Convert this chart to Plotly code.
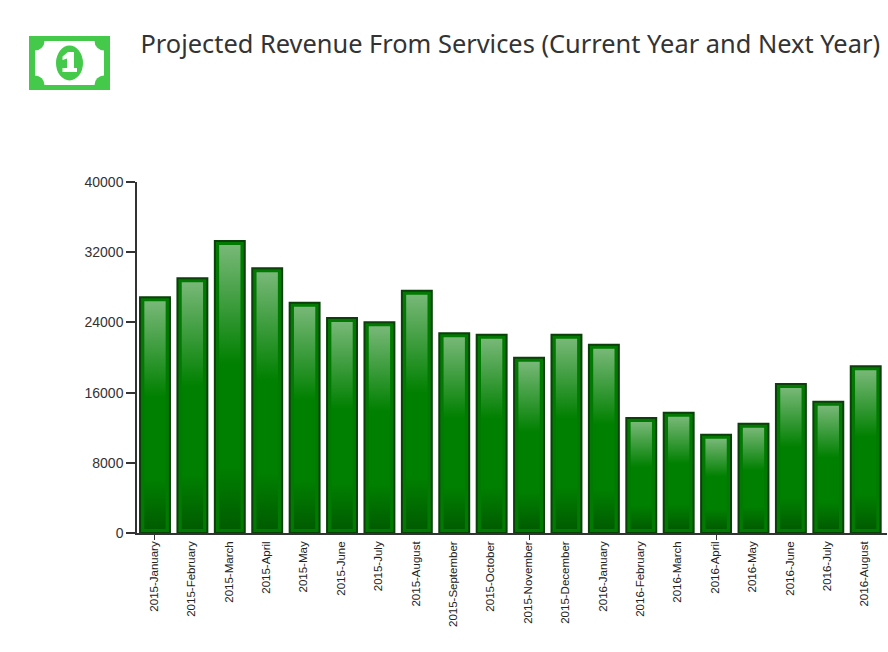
import base64
import plotly.graph_objects as go

months = ["2015-January", "2015-February", "2015-March", "2015-April", "2015-May", "2015-June",
          "2015-July", "2015-August", "2015-September", "2015-October", "2015-November",
          "2015-December", "2016-January", "2016-February", "2016-March", "2016-April",
          "2016-May", "2016-June", "2016-July", "2016-August"]
revenue = [26860, 29030, 33280, 30170, 26250, 24500, 24010, 27610, 22760, 22600, 19980,
           22600, 21460, 13100, 13710, 11200, 12460, 16980, 14960, 19000]
y_ticks = [0, 8000, 16000, 24000, 32000, 40000]
x_marked_ticks = ["2015-January", "2015-November", "2016-April"]
title_text = "Projected Revenue From Services (Current Year and Next Year)"

W, H = 888, 652
L, R, T, B = 137, 1, 182, 119
PW, PH = W - L - R, H - T - B
INSET = 4 * 40000 / PH
X_RANGE = [-0.481, 19.569]

icon = """<svg xmlns='http://www.w3.org/2000/svg' width='81' height='54' viewBox='0 0 81 54'>
<rect width='81' height='54' rx='3' fill='#45c94b'/>
<rect x='6' y='5' width='69' height='44' fill='#fff'/>
<g fill='#45c94b'><circle cx='6' cy='5' r='9.5'/><circle cx='75' cy='5' r='9.5'/>
<circle cx='6' cy='49' r='9.5'/><circle cx='75' cy='49' r='9.5'/>
<ellipse cx='40.5' cy='27' rx='13.5' ry='17.5'/></g>
<path fill='#fff' d='M33.5 20.5 L39 16 H45 V32 H48 V36 H33.5 V32 H38 V22.5 L33.5 24 Z'/>
</svg>"""
icon_uri = "data:image/svg+xml;base64," + base64.b64encode(icon.encode()).decode()

fig = go.Figure()
fig.add_bar(x=months, y=revenue, width=0.8, xaxis="x", yaxis="y",
            marker=dict(color="#007a00", line=dict(color="#0c3f0c", width=2)), hoverinfo="skip")
fig.add_bar(x=months, y=[v - 2 * INSET for v in revenue], base=INSET, width=0.57, xaxis="x2", yaxis="y",
            marker=dict(color="#008000", line=dict(width=0)), hoverinfo="skip")

fig.update_layout(
    width=W, height=H, autosize=False, showlegend=False,
    paper_bgcolor="white", plot_bgcolor="white",
    margin=dict(l=L, r=R, t=T, b=B, pad=0),
    title=dict(text=title_text, x=140.5 / W, xanchor="left", xref="container",
               y=1 - 44 / H, yanchor="middle", yref="container",
               font=dict(family="Noto Sans", size=25.4, color="#333333")),
    xaxis=dict(type="category", categoryorder="array", categoryarray=months,
               range=X_RANGE, tickmode="array", tickvals=months, ticktext=months,
               tickangle=-90, ticks="", ticklabelstandoff=2, ticklabelshift=-1, showgrid=False, zeroline=False,
               showline=True, linecolor="#333333", linewidth=1.5,
               tickfont=dict(family="Liberation Sans", size=11.5, color="#222222")),
    xaxis2=dict(type="category", categoryorder="array", categoryarray=months, overlaying="x", anchor="y",
                side="bottom", range=X_RANGE, tickmode="array", tickvals=x_marked_ticks,
                ticks="outside", ticklen=6, tickwidth=1, tickcolor="#333333",
                showticklabels=False, showgrid=False, zeroline=False, showline=False),
    yaxis=dict(range=[0, 40000], tickmode="array", tickvals=y_ticks, tickformat="d", ticks="outside", ticklen=9,
               tickwidth=1.5, tickcolor="#333333", showgrid=False, zeroline=False,
               showline=True, linecolor="#333333", linewidth=1.5,
               tickfont=dict(family="Liberation Sans", size=14, color="#333333")),
    images=[dict(source=icon_uri, xref="paper", yref="paper", x=(29 - L) / PW, y=1 + (T - 36) / PH,
                 sizex=81 / PW, sizey=54 / PH, xanchor="left", yanchor="top", sizing="stretch", layer="above")],
)

post = """
document.body.style.margin = '0';
var svg = document.querySelector('.main-svg');
var ns = 'http://www.w3.org/2000/svg';
var defs = svg.querySelector('defs') || svg.insertBefore(document.createElementNS(ns,'defs'), svg.firstChild);
var g = document.createElementNS(ns,'linearGradient');
g.setAttribute('id','barGrad'); g.setAttribute('x1','0'); g.setAttribute('y1','0'); g.setAttribute('x2','0'); g.setAttribute('y2','1');
[[0,'#78b878'],[0.42,'#008000'],[0.78,'#008000'],[1,'#005c00']].forEach(function(s){
  var st = document.createElementNS(ns,'stop'); st.setAttribute('offset',s[0]); st.setAttribute('stop-color',s[1]); g.appendChild(st);
});
defs.appendChild(g);
var traces = document.querySelectorAll('.barlayer .trace.bars');
var inner = traces[traces.length - 1];
inner.querySelectorAll('path').forEach(function(p){ p.style.fill = 'url(#barGrad)'; p.style.fillOpacity = '1'; });
"""
fig.write_html("out.html", post_script=post, config=dict(displayModeBar=False))
